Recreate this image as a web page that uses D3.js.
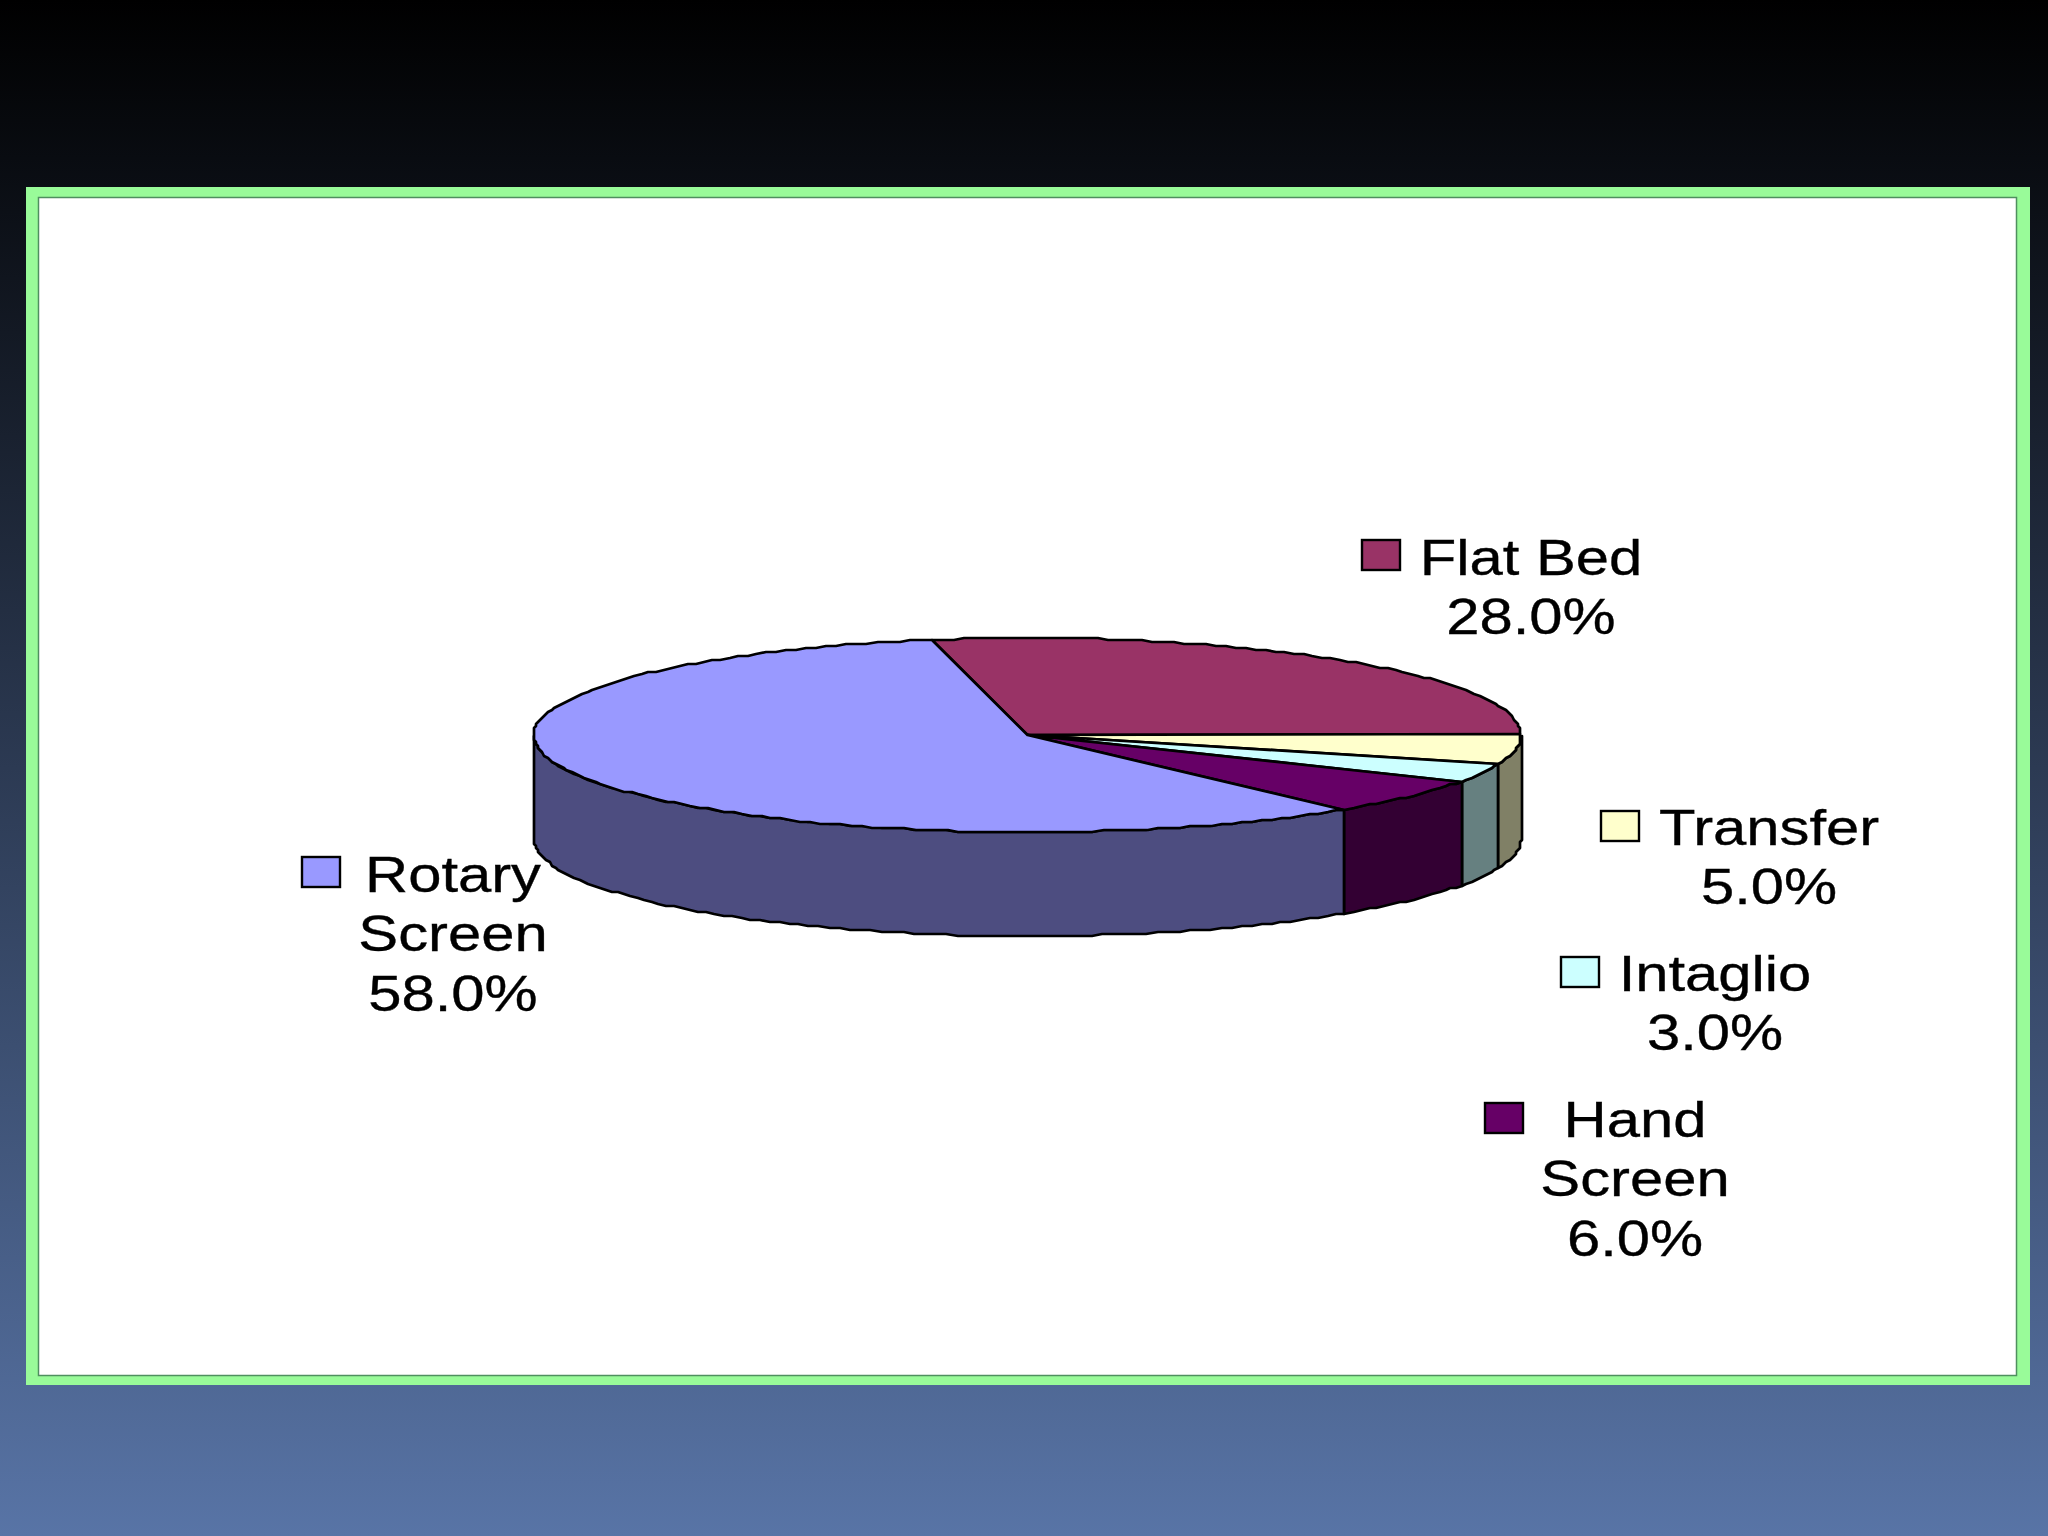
<!DOCTYPE html>
<html><head><meta charset="utf-8">
<script src="https://cdn.jsdelivr.net/npm/d3@7"></script>
<style>html,body{margin:0;padding:0;background:#000}svg{display:block}text{font-family:"Liberation Sans",Arial,sans-serif;fill:#000;stroke:#000;stroke-width:.35px}</style>
</head><body><div id="c"></div>
<script>
const categories=["Flat Bed","Transfer","Intaglio","Hand Screen","Rotary Screen"];
const values=[28,5,3,6,58];
const valueLabels=["28.0%","5.0%","3.0%","6.0%","58.0%"];
const labelLines=[["Flat Bed"],["Transfer"],["Intaglio"],["Hand","Screen"],["Rotary","Screen"]];
const topColors=["#993366","#FFFFCC","#CCFFFF","#660066","#9999FF"];
const sideColors=["#4D1A33","#808066","#668080","#330033","#4D4D80"];
const swatchPos=[[1362,540],[1601,811],[1561,957],[1485,1103],[302,857]];
const labelPos=[[1531,574.5],[1769,844.5],[1715,990.5],[1635,1136.5],[453,891.5]];

const W=2048,H=1536,LH=59.5,FS=50,SX=1.195;
const svg=d3.select("#c").append("svg").attr("width",W).attr("height",H);
const defs=svg.append("defs");
const g=defs.append("linearGradient").attr("id","bg").attr("x1",0).attr("y1",0).attr("x2",0).attr("y2",1);
g.append("stop").attr("offset","0").attr("stop-color","#000000");
g.append("stop").attr("offset","1").attr("stop-color","#5874A6");
svg.append("rect").attr("width",W).attr("height",H).attr("fill","url(#bg)");
svg.append("rect").attr("x",26).attr("y",187).attr("width",2004).attr("height",1198).attr("fill","#99FB99");
svg.append("rect").attr("x",38.5).attr("y",197.5).attr("width",1978).attr("height",1178).attr("fill","#fff").attr("stroke","#4F8F5F").attr("stroke-width",1.5);

const cx=1027.5,cy=735,rx=493.5,ry=97,depth=104;
const rot=-11.2;
const pie=d3.pie().sort(null).startAngle(rot*Math.PI/180).endAngle((360+rot)*Math.PI/180)(values);
const step=v=>Math.round(v/2)*2;
const px=a=>step(cx+rx*Math.sin(a)), py=a=>step(cy-ry*Math.cos(a));
const samples=(a,b)=>{const n=Math.max(2,Math.ceil((b-a)/(1.3*Math.PI/180)));return d3.range(n+1).map(i=>a+(b-a)*i/n)};
const line=d3.line().curve(d3.curveLinear);
const pl=svg.append("g").attr("stroke","#000").attr("stroke-width",2.7).attr("stroke-linejoin","round");
// sides (only the front half is visible)
pie.forEach((d,i)=>{
  const a=Math.max(d.startAngle,Math.PI/2),b=Math.min(d.endAngle,3*Math.PI/2);
  if(b<=a)return;
  const s=samples(a,b);
  const pts=s.map(t=>[px(t),py(t)]).concat(s.slice().reverse().map(t=>[px(t),py(t)+depth]));
  pl.append("path").attr("d",line(pts)+"Z").attr("fill",sideColors[i]);
});
// top
pie.forEach((d,i)=>{
  const pts=[[cx,cy]].concat(samples(d.startAngle,d.endAngle).map(t=>[px(t),py(t)]));
  pl.append("path").attr("d",line(pts)+"Z").attr("fill",topColors[i]);
});
// swatches and labels
categories.forEach((c,i)=>{
  svg.append("rect").attr("x",swatchPos[i][0]).attr("y",swatchPos[i][1]).attr("width",38).attr("height",30)
    .attr("fill",topColors[i]).attr("stroke","#000").attr("stroke-width",2.4);
  const [lx,ly]=labelPos[i];
  labelLines[i].concat([valueLabels[i]]).forEach((t,j)=>{
    svg.append("text").attr("transform",`translate(${lx},${ly+j*LH}) scale(${SX},1)`)
      .attr("text-anchor","middle").attr("font-size",FS).text(t);
  });
});
</script></body></html>
